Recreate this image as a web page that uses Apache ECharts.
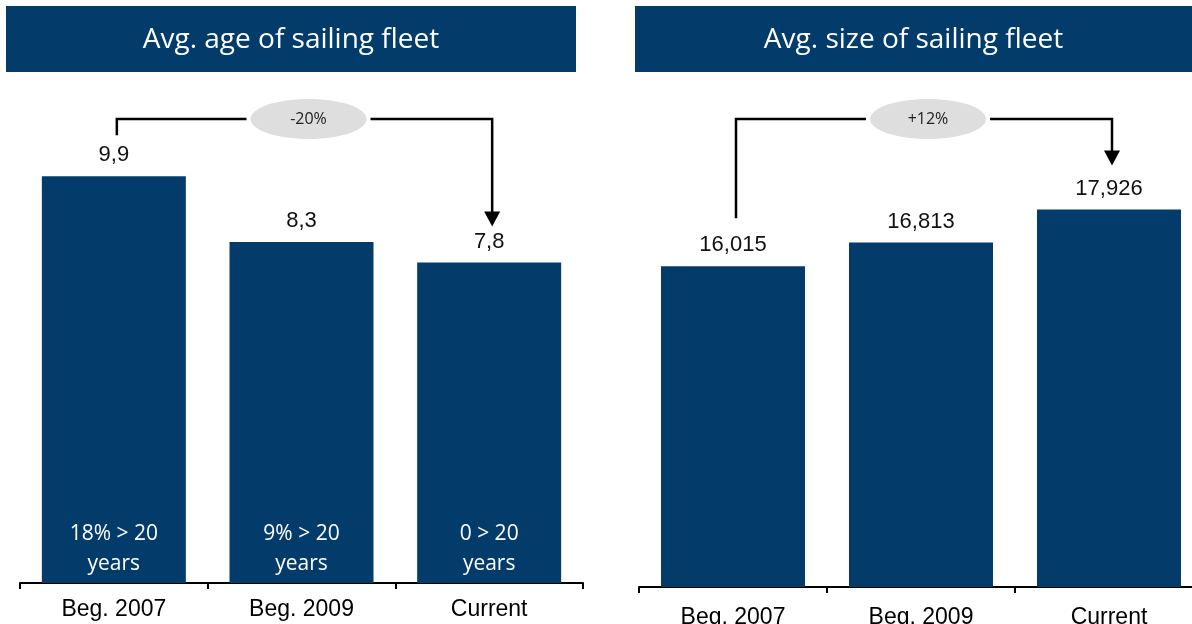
<!DOCTYPE html>
<html>
<head>
<meta charset="utf-8">
<script src="https://cdn.jsdelivr.net/npm/echarts@6/dist/echarts.min.js"></script>
<style>
  body { margin: 0; background: #fff; }
  #main { width: 1192px; height: 624px; }
</style>
</head>
<body>
<div id="main"></div>
<script>
var categories = ['Beg. 2007', 'Beg. 2009', 'Current']
var ageValues = [9.9, 8.3, 7.8]
var ageNotes = ['18% > 20\nyears', '9% > 20\nyears', '0 > 20\nyears']
var sizeValues = [16015, 16813, 17926]
var ageTitle = 'Avg. age of sailing fleet'
var sizeTitle = 'Avg. size of sailing fleet'
var ageChange = '-20%'
var sizeChange = '+12%'

var navy = '#033c6a'
var chart = echarts.init(document.getElementById('main'))

function xAxisCfg(grid, margin) {
  return {
    type: 'category',
    gridIndex: grid,
    data: categories,
    axisLine: { lineStyle: { color: '#000', width: 2 } },
    axisTick: { show: true, length: 6, lineStyle: { color: '#000', width: 2 } },
    axisLabel: { color: '#000', fontSize: 23, fontFamily: 'Liberation Sans', margin: margin }
  }
}

var option = {
  animation: false,
  grid: [
    { left: 20, right: 609, top: 90, bottom: 41, outerBoundsMode: 'none' },
    // right chart runs a little past the edge of the picture
    { left: 639, width: 564, top: 148, bottom: 37, outerBoundsMode: 'none' }
  ],
  xAxis: [xAxisCfg(0, 15), xAxisCfg(1, 19)],
  yAxis: [
    { type: 'value', gridIndex: 0, min: 0, max: 12, show: false },
    { type: 'value', gridIndex: 1, min: 5200, max: 20000, show: false }
  ],
  series: [
    {
      type: 'bar',
      xAxisIndex: 0,
      yAxisIndex: 0,
      barWidth: 144,
      itemStyle: { color: navy },
      label: {
        show: true,
        position: 'top',
        distance: 10,
        color: '#111',
        fontSize: 22,
        fontFamily: 'Liberation Sans',
        formatter: function(p) { return p.value.toFixed(1).replace('.', ',') }
      },
      data: ageValues
    },
    {
      // notes inside the age bars
      type: 'bar',
      xAxisIndex: 0,
      yAxisIndex: 0,
      barWidth: 144,
      barGap: '-100%',
      itemStyle: { color: 'transparent' },
      label: {
        show: true,
        position: 'insideBottom',
        distance: 4,
        color: '#fff',
        fontSize: 21,
        lineHeight: 30,
        fontFamily: 'Open Sans',
        formatter: function(p) { return ageNotes[p.dataIndex] }
      },
      data: ageValues
    },
    {
      type: 'bar',
      xAxisIndex: 1,
      yAxisIndex: 1,
      barWidth: 144,
      itemStyle: { color: navy },
      label: {
        show: true,
        position: 'top',
        distance: 10,
        color: '#111',
        fontSize: 22,
        fontFamily: 'Liberation Sans',
        formatter: function(p) { return p.value.toLocaleString('en-US') }
      },
      data: sizeValues
    }
  ]
}
chart.setOption(option)

// bracket with arrow from first bar to last bar
function bracket(gridIdx, values, text, startGap, endGap) {
  var p0 = chart.convertToPixel({ xAxisIndex: gridIdx, yAxisIndex: gridIdx }, [0, values[0]])
  var p2 = chart.convertToPixel({ xAxisIndex: gridIdx, yAxisIndex: gridIdx }, [2, values[2]])
  var x0 = p0[0] + 3
  var x2 = p2[0] + 3
  var yTop = 119
  var cx = (x0 + x2) / 2 + 4
  var tip = p2[1] - endGap
  var line = { stroke: '#000', lineWidth: 2.5, fill: null }
  return [
    { type: 'polyline', shape: { points: [[x0, p0[1] - startGap], [x0, yTop], [cx - 62, yTop]] }, style: line },
    { type: 'polyline', shape: { points: [[cx + 62, yTop], [x2, yTop], [x2, tip - 14]] }, style: line },
    { type: 'polygon', shape: { points: [[x2 - 8, tip - 15], [x2 + 8, tip - 15], [x2, tip]] }, style: { fill: '#000' } },
    { type: 'ellipse', shape: { cx: cx, cy: yTop, rx: 58, ry: 20 }, style: { fill: '#dedede' } },
    { type: 'text', x: cx, y: yTop, style: { text: text, fill: '#222', font: '16px "Open Sans"', align: 'center', verticalAlign: 'middle' } }
  ]
}

function titleBox(x, w, text) {
  return [
    { type: 'rect', shape: { x: x, y: 6, width: w, height: 66 }, style: { fill: navy } },
    { type: 'text', x: x + w / 2, y: 40, style: { text: text, fill: '#fff', font: '28px "Open Sans"', align: 'center', verticalAlign: 'middle' } }
  ]
}

var elements = []
  .concat(titleBox(6, 570, ageTitle))
  .concat(titleBox(635, 557, sizeTitle))
  .concat(bracket(0, ageValues, ageChange, 41, 36))
  .concat(bracket(1, sizeValues, sizeChange, 48, 44))

chart.setOption({ graphic: elements })
</script>
</body>
</html>
